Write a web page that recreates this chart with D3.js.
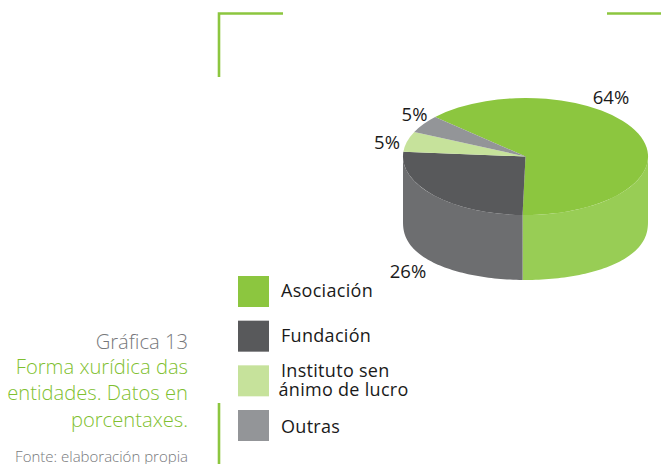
<!DOCTYPE html>
<html><head><meta charset="utf-8">
<script src="https://cdn.jsdelivr.net/npm/d3@7"></script>
<style>html,body{margin:0;padding:0;background:#fff}svg{display:block}text{font-family:"Open Sans",sans-serif}</style>
</head><body><svg id="c" width="661" height="464"></svg>
<script>
const categories=["Asociación","Fundación","Instituto sen\nánimo de lucro","Outras"];
const values=[63.6,25.9,5.6,4.9];
const labels=["64%","26%","5%","5%"];
const topColors=["#8cc63f","#58595b","#c6e29b","#939598"];
const wallColors=["#98cd55","#6d6e70","#c6e29b","#939598"];
const titleLines=["Forma xurídica das","entidades. Datos en","porcentaxes."];

const W=661,H=464,cx=525.5,cy=156.5,rx=122.5,ry=58.5,depth=65;
const svg=d3.select("#c");
const green="#8cc63f";
const deg=Math.PI/180;
const sx=d3.scaleLinear().domain([-1,1]).range([cx-rx,cx+rx]);
const sy=d3.scaleLinear().domain([-1,1]).range([cy-ry,cy+ry]);
const arcs=d3.pie().sort(null).value(d=>d).startAngle(-47.6*deg).endAngle(312.4*deg)(values);

// bracket rules
svg.append("g").attr("fill","none").attr("stroke",green).attr("stroke-width",2.6)
  .selectAll("path").data([[[219,77],[219,13.5],[283,13.5]],[[607,13.5],[661,13.5]],[[219,403],[219,464]]])
  .join("path").attr("d",d3.line());

// side walls (lower rim slightly fuller than the top ellipse, as drawn in the original)
const line=d3.line().x(d=>sx(Math.sin(d))).y(d=>sy(-Math.cos(d)));
const rim=d3.line().x(d=>sx(Math.sin(d))).y(d=>sy(Math.pow(Math.max(0,-Math.cos(d)),0.85))+depth);
const wall=(a0,a1)=>{
  const s=Math.max(a0,Math.PI/2),e=Math.min(a1,Math.PI*1.5);
  if(e<=s)return null;
  const pts=d3.range(0,61).map(i=>s+(e-s)*i/60);
  const top=line(pts);
  const bot=rim(pts.slice().reverse());
  return top+"L"+bot.slice(1)+"Z";
};
svg.append("g").selectAll("path").data(arcs).join("path")
  .attr("d",d=>wall(d.startAngle,d.endAngle)).attr("fill",(d,i)=>wallColors[i]);

// top face
const arc=d3.arc().innerRadius(0).outerRadius(1);
svg.append("g").attr("transform",`translate(${cx},${cy}) scale(${rx},${ry})`)
  .selectAll("path").data(arcs).join("path").attr("d",arc).attr("fill",(d,i)=>topColors[i]);

// value labels
const labelPos=[[611,103.5],[408,277.5],[387,148.5],[414.5,121]];
svg.append("g").attr("font-size",18.5).attr("fill","#1a1a1a").attr("text-anchor","middle")
  .selectAll("text").data(labels).join("text")
  .attr("x",(d,i)=>labelPos[i][0]).attr("y",(d,i)=>labelPos[i][1]).text(d=>d);

// legend
const ly=d3.scalePoint().domain(categories).range([276,410]);
const baselines=[[21],[21],[11.5,30.5],[23]];
const lg=svg.append("g").selectAll("g").data(categories).join("g")
  .attr("transform",d=>`translate(238,${ly(d)})`);
lg.append("rect").attr("width",31).attr("height",31).attr("fill",(d,i)=>topColors[i]);
lg.each(function(d,i){
  const parts=d.split("\n"),g=d3.select(this);
  parts.forEach((p,j)=>g.append("text").attr("x",j?40.5:43).attr("font-size",18).attr("fill","#1a1a1a")
    .attr("letter-spacing",0.3)
    .attr("y",baselines[i][j]).text(p));
});

// caption
const cap=svg.append("g").attr("text-anchor","end");
cap.append("text").attr("x",188).attr("y",349).attr("font-size",20.2).attr("font-weight",300).attr("fill","#77787b").text("Gráfica 13");
cap.selectAll(".t").data(titleLines).join("text").attr("class","t")
  .attr("x",188).attr("y",(d,i)=>374+i*26.3).attr("font-size",20.2).attr("font-weight",300).attr("fill","#7fbf30").text(d=>d);
cap.append("text").attr("x",188).attr("y",461.5).attr("font-size",15).attr("font-weight",300).attr("fill","#77787b").text("Fonte: elaboración propia");
</script></body></html>
